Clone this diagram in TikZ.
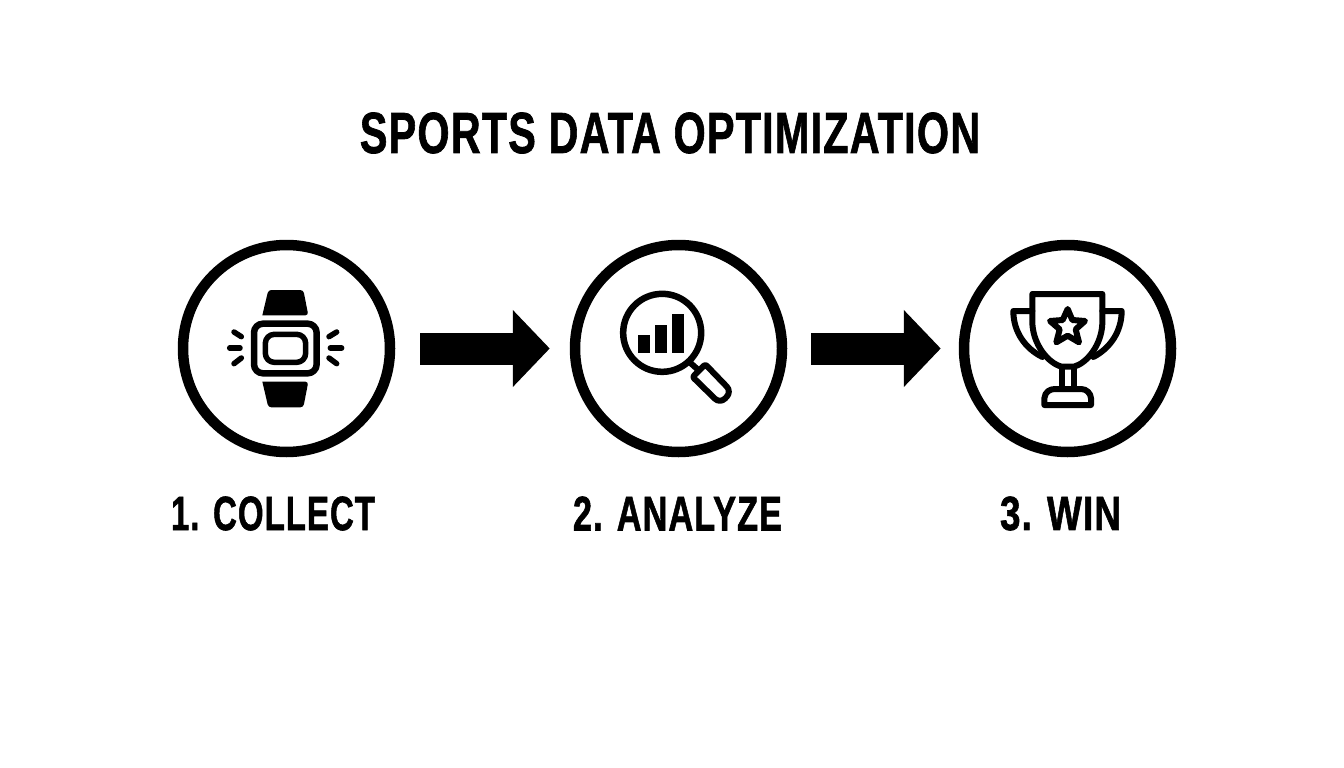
\documentclass[tikz,border=0pt]{standalone}
\usepackage{fontspec}
\usepackage{graphicx}
\setmainfont{Liberation Sans}
\newfontfamily\labfont[FakeBold=1.4,LetterSpace=3]{Liberation Sans Bold}
\usetikzlibrary{arrows.meta}
\newcommand{\fittext}[3]{\resizebox*{#1pt}{#2pt}{\labfont #3}}
\tikzset{
  stage/.style={circle,draw=black,line width=10.5pt,minimum size=207pt,inner sep=0pt,fill=white},
  flow/.style={line width=32pt,-{Triangle[length=37pt,width=75pt]},yshift=-1pt},
  caption/.style={inner sep=0pt,outer sep=0pt,text=black},
  icon/.style={draw=black,line width=6pt,line join=round,line cap=round},
  solid icon/.style={fill=black,draw=none},
  zoomA/.style={shift={(170,235)},x=0.33333pt,y=-0.33333pt},
  zoomB/.style={shift={(565,235)},x=0.33333pt,y=-0.33333pt},
  zoomC/.style={shift={(955,235)},x=0.33333pt,y=-0.33333pt}
}
\begin{document}
\begin{tikzpicture}[x=1pt,y=-1pt]
\useasboundingbox[fill=white] (0,0) rectangle (1344,768);

\node[caption] (title) at (670,133) {\fittext{620}{41}{SPORTS DATA OPTIMIZATION}};

\node[stage] (c1) at (286.5,348.5) {};
\node[stage] (c2) at (678.5,348.5) {};
\node[stage] (c3) at (1067.5,348.5) {};

\draw[flow,shorten <=25pt,shorten >=20pt] (c1.east) -- (c2.west);
\draw[flow,shorten <=24pt,shorten >=18pt] (c2.east) -- (c3.west);

\node[caption] (l1) at (273,513.5) {\fittext{204}{34}{1. COLLECT}};
\node[caption] (l2) at (677.5,513.5) {\fittext{209}{34}{2. ANALYZE}};
\node[caption] (l3) at (1060.5,513.5) {\fittext{121}{34}{3. WIN}};

% watch
\begin{scope}[zoomA]
  \fill[solid icon,rounded corners=3pt] (277,241) -- (295,165) -- (400,165) -- (415,241) [sharp corners] -- cycle;
  \fill[solid icon,rounded corners=3pt] (277,440) -- (295,517) -- (400,517) -- (415,440) [sharp corners] -- cycle;
  \draw[icon,line width=6.5pt,rounded corners=9pt] (252,266) rectangle (440,415);
  \draw[icon,line width=5.5pt,rounded corners=9pt] (286,298) rectangle (407,382);
  \draw[icon,line width=5.5pt] (179,339) -- (210,339);
  \draw[icon,line width=5.5pt] (192,291) -- (214,305);
  \draw[icon,line width=5.5pt] (192,386) -- (214,369);
  \draw[icon,line width=5.5pt] (481,339) -- (515,339);
  \draw[icon,line width=5.5pt] (500,291) -- (477,305);
  \draw[icon,line width=5.5pt] (477,369) -- (500,386);
\end{scope}

% magnifier
\begin{scope}[zoomB]
  \draw[icon,line width=6.5pt] (291.5,293.5) circle[radius=39pt];
  \fill[solid icon] (220,300) rectangle (255,355);
  \fill[solid icon] (271,271) rectangle (306,355);
  \fill[solid icon] (321,236) rectangle (356,355);
  \draw[icon,line cap=butt] (372,380) -- (400,405);
  \draw[icon,rounded corners=2pt] (421,388) -- (383,426) [rounded corners=7pt] -- (465,506) -- (500,470) [rounded corners=2pt] -- cycle;
\end{scope}

% trophy
\begin{scope}[zoomC]
  \draw[icon] (232,177) -- (232,265) .. controls (235,330) and (280,385) .. (320,395) -- (357,395) .. controls (395,385) and (440,330) .. (442,265) -- (442,177) -- cycle;
  \draw[icon] (232,228) -- (175,228) .. controls (175,290) and (210,340) .. (262,366);
  \draw[icon] (442,228) -- (500,228) .. controls (500,290) and (465,340) .. (415,366);
  \draw[icon,line cap=butt] (320,395) -- (320,460);
  \draw[icon,line cap=butt] (357,395) -- (357,460);
  \draw[icon] (268,510) -- (268,490) .. controls (270,470) and (285,462) .. (300,462) -- (378,462) .. controls (395,462) and (407,475) .. (408,490) -- (408,510) -- cycle;
  \draw[icon] (338,222) -- (352,255) -- (390,258) -- (362,283) -- (372,322) -- (338,302) -- (304,322) -- (314,283) -- (285,258) -- (323,255) -- cycle;
\end{scope}
\end{tikzpicture}
\end{document}
